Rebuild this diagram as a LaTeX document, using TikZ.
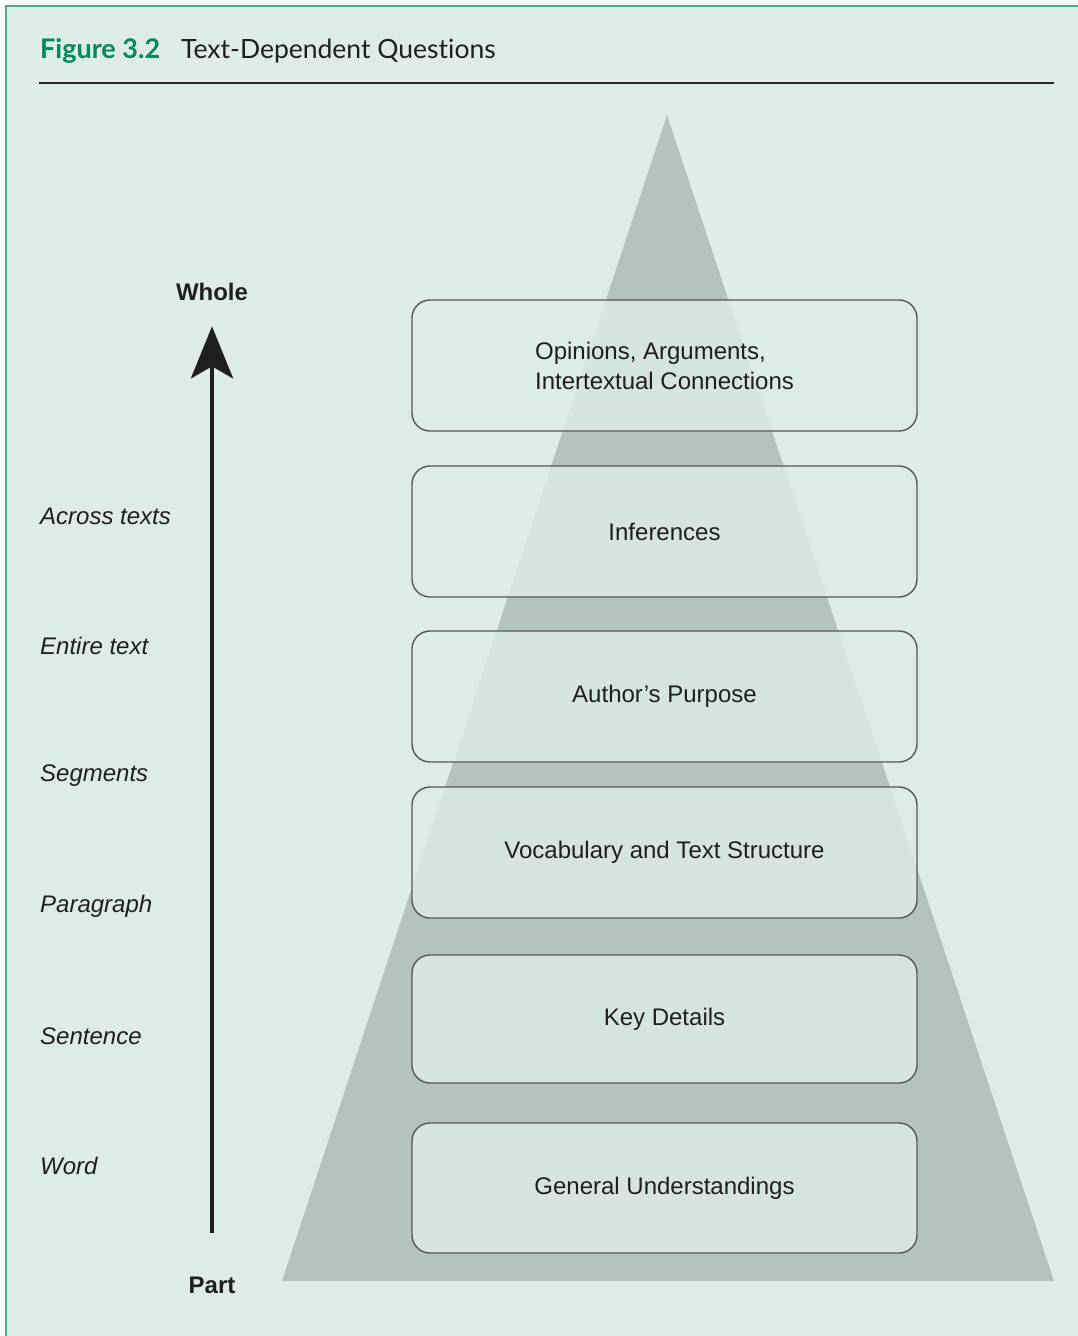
\documentclass[tikz,border=0pt]{standalone}
\usepackage{fontspec}
\setmainfont{Liberation Sans}
\newfontfamily\titlefont[Ligatures=NoCommon]{Lato}
\usetikzlibrary{arrows.meta, positioning}
\definecolor{panelbg}{RGB}{221,236,229}
\definecolor{pyramidgray}{RGB}{179,196,190}
\definecolor{framegreen}{RGB}{76,172,132}
\definecolor{titlegreen}{RGB}{0,135,90}
\definecolor{boxline}{RGB}{85,88,86}

\begin{document}
\begin{tikzpicture}[
  x=1pt, y=-1pt,
  every node/.style = {font=\fontsize{24}{30}\selectfont, text=black!88},
  level box/.style = {draw=boxline, line width=1.4pt, rounded corners=18pt,
    fill=panelbg, fill opacity=0.82, text opacity=1,
    minimum width=505pt, minimum height=131pt, align=left},
  scale label/.style = {anchor=west, inner sep=0pt, font=\fontsize{24}{30}\selectfont\itshape},
  end label/.style = {font=\fontsize{24}{30}\selectfont\bfseries},
  heading/.style = {anchor=base west, inner sep=0pt, font=\titlefont\fontsize{26.5}{30}\selectfont}
]
  \useasboundingbox (0,0) rectangle (1078,1336);
  \fill[panelbg] (6,6) rectangle (1078,1336);
  \draw[framegreen, line width=2pt] (6,1336) -- (6,6) -- (1078,6);

  % heading
  \node[heading, font=\titlefont\fontsize{27}{30}\selectfont\bfseries, text=titlegreen] (fignum) at (40,58) {Figure 3.2};
  \node[heading] (figtitle) at (181,58) {Text-Dependent Questions};
  \draw[line width=2.2pt, black!85] (39,83) -- (1054,83);

  % pyramid
  \fill[pyramidgray] (667,115) -- (1054,1281) -- (282,1281) -- cycle;

  \node[level box] (opinions) at (664.5,365.5) {Opinions, Arguments,\\Intertextual Connections};
  \node[level box] (inferences) at (664.5,531.5) {Inferences};
  \node[level box] (purpose) at (664.5,696.5) {Author’s Purpose};
  \node[level box] (vocab) at (664.5,852.5) {Vocabulary and Text Structure};
  \node[level box, minimum height=128pt] (details) at (664.5,1019) {Key Details};
  \node[level box, minimum height=130pt] (general) at (664.5,1188) {General Understandings};

  % part-to-whole scale
  \node[end label] (whole) at (212,292) {Whole};
  \node[end label] (part) at (212,1285) {Part};
  \draw[line width=4.5pt, black!88, -{Stealth[length=52pt, width=42pt, inset=12pt]},
    shorten <=40pt, shorten >=22pt] (part.north) -- (whole.south);

  \node[scale label] (across) at (40,516) {Across texts};
  \node[scale label] (entire) at (40,646) {Entire text};
  \node[scale label] (segments) at (40,776) {Segments};
  \node[scale label] (paragraph) at (40,906) {Paragraph};
  \node[scale label] (sentence) at (40,1036) {Sentence};
  \node[scale label] (word) at (40,1166) {Word};
\end{tikzpicture}
\end{document}
